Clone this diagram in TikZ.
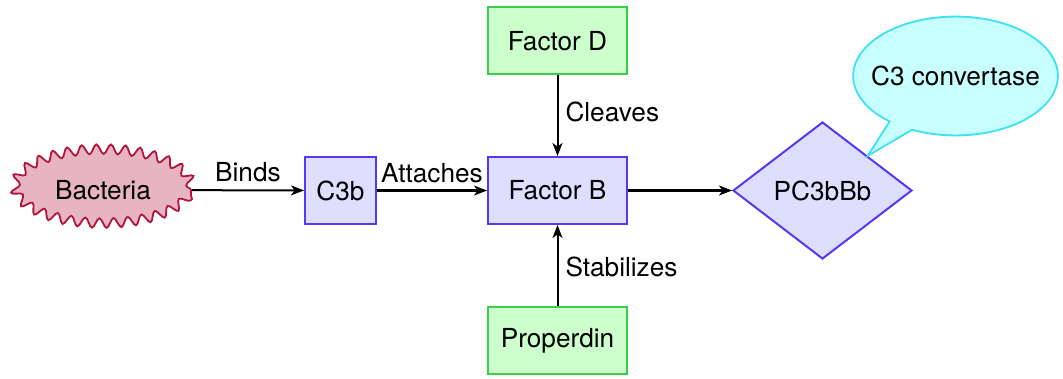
\documentclass[tikz,border=0pt]{standalone}
\usepackage{fontspec}
\setmainfont{TeX Gyre Heros}
\usetikzlibrary{shapes.geometric,shapes.callouts,decorations.pathmorphing,arrows.meta}
\definecolor{bactfill}{RGB}{231,181,193}
\definecolor{bactline}{RGB}{176,22,58}
\definecolor{bluefill}{RGB}{222,222,255}
\definecolor{blueline}{RGB}{85,55,245}
\definecolor{greenfill}{RGB}{204,255,204}
\definecolor{greenline}{RGB}{60,205,75}
\definecolor{cyanfill}{RGB}{200,255,255}
\definecolor{cyanline}{RGB}{60,225,245}
\begin{document}
\begin{tikzpicture}[x=0.5pt,y=-0.5pt,
  font=\fontsize{13.1}{15}\selectfont,
  bluebox/.style={draw=blueline,fill=bluefill,line width=1pt,inner sep=0pt},
  greenbox/.style={draw=greenline,fill=greenfill,line width=1pt,inner sep=0pt,
    minimum width=69.5pt,minimum height=33.5pt},
  germ/.style={ellipse,draw=bactline,fill=bactfill,line width=0.9pt,inner sep=0pt,
    minimum width=88pt,minimum height=37pt,
    decorate,decoration={snake,segment length=7.2pt,amplitude=2.4pt}},
  link/.style={line width=1pt,-{Stealth[length=6.5pt,width=5pt,inset=1.8pt]}},
  lbl/.style={inner sep=3.5pt}]
  \useasboundingbox (0,0) rectangle (1063,379);

  % nodes
  \node[germ] (bact) at (103,190) {Bacteria};
  \node[bluebox,minimum width=35.5pt,minimum height=33.5pt] (c3b) at (340.5,190.5) {C3b};
  \node[bluebox,minimum width=69.5pt,minimum height=33.5pt] (fb) at (557.5,190.5) {Factor B};
  \node[greenbox] (fd) at (557.5,41) {Factor D};
  \node[greenbox] (prop) at (557.5,340.5) {Properdin};
  \node[diamond,draw=blueline,fill=bluefill,line width=1pt,inner sep=0pt,
    minimum width=89.5pt,minimum height=68.5pt] (pc) at (822.5,190.5) {PC3bBb};
  \node[ellipse callout,draw=cyanline,fill=cyanfill,line width=0.9pt,
    inner xsep=-6pt,inner ysep=16pt,
    callout absolute pointer={(pc.north east)}] (conv) at (955.5,76) {C3 convertase};

  % connectors
  \draw[link] (bact) -- node[above,lbl] {Binds} (c3b);
  \draw[link] (c3b) -- node[above,lbl] {Attaches} (fb);
  \draw[link] (fd) -- node[right,lbl,pos=0.45] {Cleaves} (fb);
  \draw[link] (prop) -- node[right,lbl,pos=0.48] {Stabilizes} (fb);
  \draw[link] (fb) -- (pc);
\end{tikzpicture}
\end{document}
